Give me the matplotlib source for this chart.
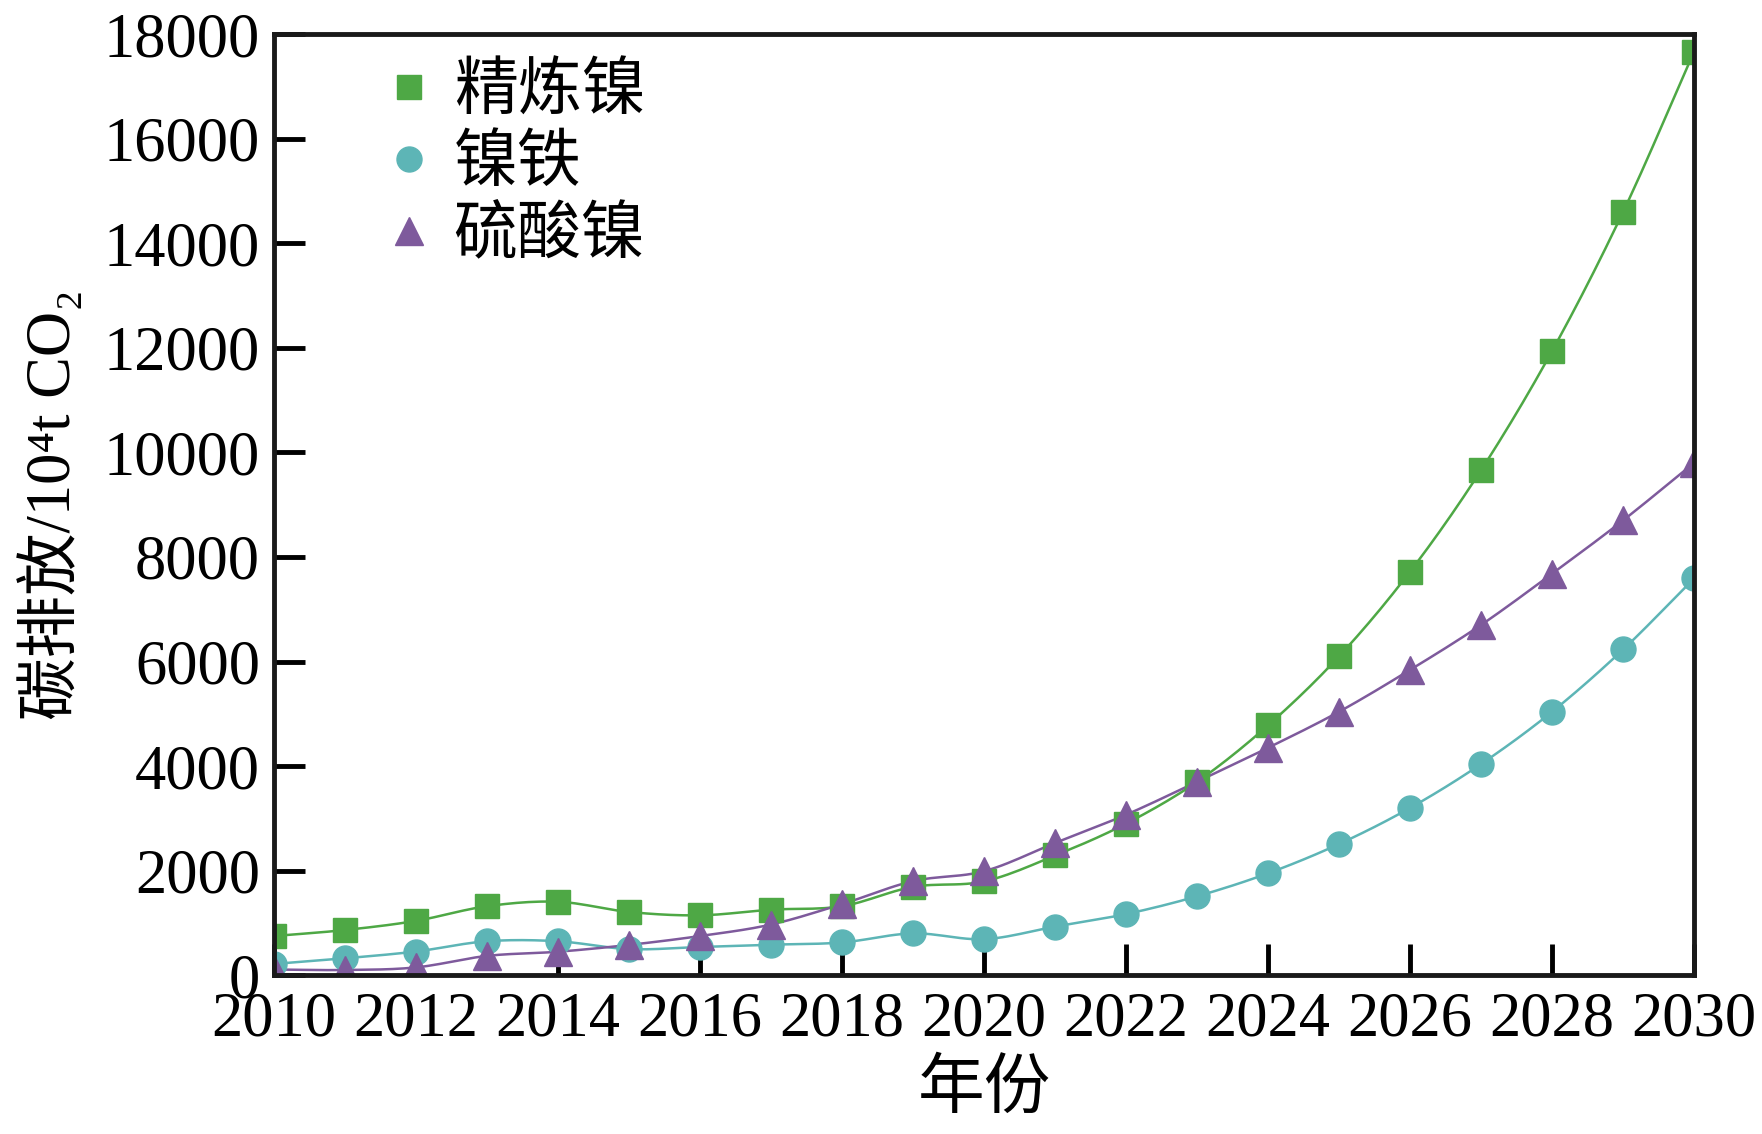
import numpy as np
import matplotlib
matplotlib.use("Agg")
import matplotlib.pyplot as plt

years = list(range(2010, 2031))
refined_nickel = [750, 865, 1040, 1320, 1405, 1210, 1146, 1254, 1320, 1690, 1795,
                  2290, 2900, 3700, 4780, 6100, 7720, 9660, 11940, 14600, 17665]
ferronickel = [216, 324, 454, 650, 650, 500, 540, 584, 627, 800, 690,
               930, 1170, 1510, 1950, 2510, 3200, 4040, 5040, 6230, 7590]
nickel_sulfate = [110, 100, 150, 370, 450, 580, 750, 970, 1360, 1800, 1990,
                  2530, 3070, 3700, 4350, 5040, 5840, 6700, 7680, 8700, 9800]
series_names = ["精炼镍", "镍铁", "硫酸镍"]
xticks = list(range(2010, 2031, 2))
yticks = list(range(0, 18001, 2000))

colors = ["#4ea845", "#5db5b6", "#7e5a9c"]
markers = ["s", "o", "^"]
msizes = [17, 18, 20]

FAM = ["Liberation Serif", "DejaVu Serif", "Noto Sans CJK SC"]
plt.rcParams["font.family"] = FAM


def catmull_rom(x, y, n=12):
    x = np.asarray(x, float)
    y = np.asarray(y, float)
    px = np.concatenate([[2 * x[0] - x[1]], x, [2 * x[-1] - x[-2]]])
    py = np.concatenate([[2 * y[0] - y[1]], y, [2 * y[-1] - y[-2]]])
    xs, ys = [], []
    t = np.linspace(0, 1, n, endpoint=False)
    for i in range(1, len(px) - 2):
        p0, p1, p2, p3 = py[i - 1], py[i], py[i + 1], py[i + 2]
        q0, q1, q2, q3 = px[i - 1], px[i], px[i + 1], px[i + 2]
        ys.append(0.5 * (2 * p1 + (-p0 + p2) * t + (2 * p0 - 5 * p1 + 4 * p2 - p3) * t ** 2
                         + (-p0 + 3 * p1 - 3 * p2 + p3) * t ** 3))
        xs.append(0.5 * (2 * q1 + (-q0 + q2) * t + (2 * q0 - 5 * q1 + 4 * q2 - q3) * t ** 2
                         + (-q0 + 3 * q1 - 3 * q2 + q3) * t ** 3))
    xs.append([x[-1]])
    ys.append([y[-1]])
    return np.concatenate(xs), np.concatenate(ys)


fig = plt.figure(figsize=(17.62, 11.34), dpi=100)
ax = fig.add_axes([0.1555, 0.140, 0.806, 0.830])

for vals, name, c, m, ms in zip([refined_nickel, ferronickel, nickel_sulfate],
                                series_names, colors, markers, msizes):
    sx, sy = catmull_rom(years, vals)
    ax.plot(sx, sy, color=c, lw=1.8, zorder=2)
    ax.plot(years, vals, linestyle="none", marker=m, ms=ms, color=c,
            markeredgecolor=c, zorder=2.1, label=name)

ax.set_xlim(2010, 2030)
ax.set_ylim(0, 18000)
ax.set_xticks(xticks)
ax.set_yticks(yticks)
ax.tick_params(direction="in", length=22, width=3.5, labelsize=45, pad=10,
               top=False, right=False)
ax.tick_params(axis="x", pad=12)
for s in ax.spines.values():
    s.set_linewidth(3.5)
    s.set_color("#1a1a1a")

ax.set_xlabel("年份", fontsize=48, family=["Noto Sans CJK SC"], labelpad=4)
ax.set_ylabel("碳排放/10⁴t CO₂", fontsize=45, labelpad=14)

leg = ax.legend(loc="upper left", bbox_to_anchor=(0.05, 1.015), frameon=False,
                handlelength=0.8, handletextpad=0.3, labelspacing=0.08,
                borderaxespad=0.2,
                prop={"family": ["Noto Sans CJK SC"], "size": 46})

fig.savefig("out.png", dpi=100)
